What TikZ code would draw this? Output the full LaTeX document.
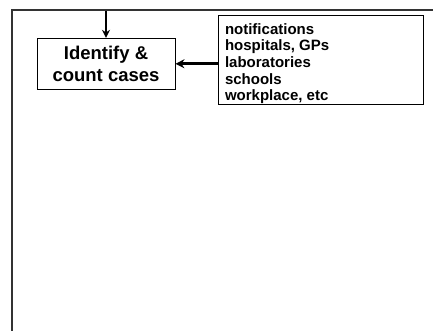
\documentclass[tikz,border=0pt]{standalone}
\usepackage{fontspec}
\setmainfont{Liberation Sans}
\usetikzlibrary{arrows.meta}
\begin{document}
\begin{tikzpicture}[x=1pt,y=-1pt,
  box/.style={draw, line width=0.9pt, rectangle, inner sep=0pt},
  conn/.style={line width=2.8pt, -{Stealth[length=9pt,width=9pt]}},
  frame/.style={line width=1.1pt, draw=black!80}]
\useasboundingbox (0,0) rectangle (433,331);
\coordinate (fTR) at (433,10);
\coordinate (fTL) at (12,10);
\coordinate (fBL) at (12,331);
\draw[frame] (fTR) -- (fTL) -- (fBL);
\node[box, minimum width=138pt, minimum height=51pt, align=center,
  font=\bfseries\fontsize{18.5}{22}\selectfont] (id) at (106,63.8) {Identify \&\\count cases};
\node[box, minimum width=205pt, minimum height=89pt, inner xsep=7pt,
  font=\bfseries\fontsize{15}{16.6}\selectfont] (src) at (320.5,59.5)
  {\parbox[c][89pt][t]{191pt}{\raggedright\vspace*{8.5pt}notifications\\hospitals, GPs\\laboratories\\schools\\workplace, etc}};
\coordinate (in) at (106,11);
\draw[line width=2.8pt, -{Stealth[length=8pt,width=8pt]}] (in) -- (id.north);
\draw[conn] (src.west |- id.east) -- (id.east);
\end{tikzpicture}
\end{document}
